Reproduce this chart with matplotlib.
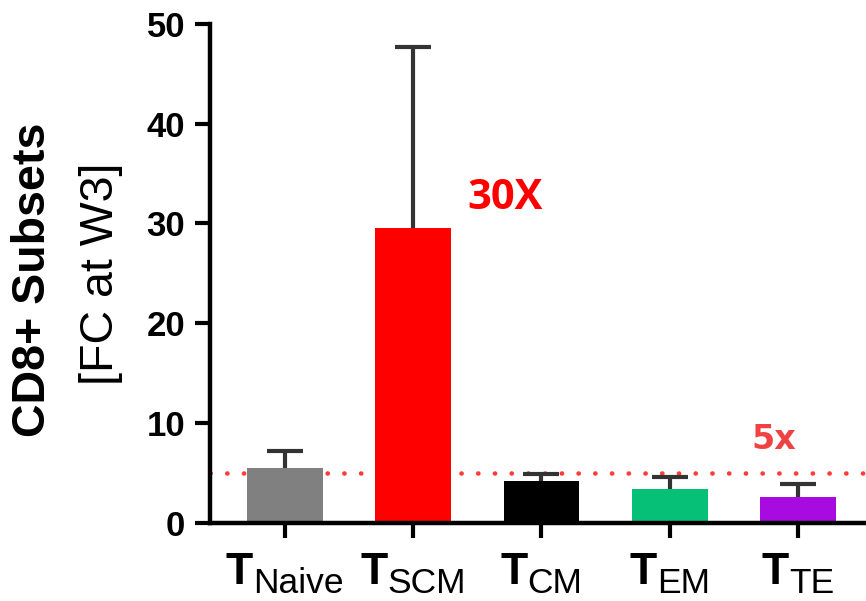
import matplotlib
matplotlib.use("Agg")
import matplotlib.pyplot as plt
from matplotlib.transforms import blended_transform_factory, offset_copy

# ---- data ----
categories_main = ["T", "T", "T", "T", "T"]
categories_sub = ["Naive", "SCM", "CM", "EM", "TE"]
means = [5.45, 29.5, 4.12, 3.34, 2.55]
errors_up = [1.7, 18.2, 0.78, 1.22, 1.32]
bar_colors = ["#808080", "#FF0000", "#000000", "#07C078", "#A70BE0"]
yticks = [0, 10, 20, 30, 40, 50]
threshold = 5
label_30x = "30X"
label_5x = "5x"
ylabel_bold = "CD8+ Subsets"
ylabel_norm = "[FC at W3]"

W, H = 866, 601
fig = plt.figure(figsize=(W / 100, H / 100), dpi=100)
ax = fig.add_axes([209.5 / W, (H - 522.5) / H, 1 - 209.5 / W, (522.5 - 24) / H])

x = list(range(len(means)))
ax.axhline(threshold, color="#FF3B3B", lw=3.3, linestyle=(0, (0.05, 3.6)),
           dash_capstyle="round", zorder=1)
ax.bar(x, means, width=0.59, color=bar_colors, zorder=2)
eb = ax.errorbar(x, means, yerr=[[0] * len(means), errors_up], fmt="none",
                 ecolor="#333333", elinewidth=3, capsize=13.3, capthick=3, zorder=3)
# keep only the upper caps
caplines = eb[1]
if len(caplines) == 2:
    caplines[0].set_visible(False)

ax.set_xlim(-0.588, 4.53)
ax.set_ylim(0, 50)
ax.set_yticks(yticks)
ax.set_yticklabels([str(v) for v in yticks], fontfamily="Liberation Sans",
                   fontweight="bold", fontsize=25)
ax.set_xticks(x)
ax.set_xticklabels([])
for s in ["top", "right"]:
    ax.spines[s].set_visible(False)
for s in ["left", "bottom"]:
    ax.spines[s].set_linewidth(3.2)
ax.tick_params(axis="both", direction="out", length=10.5, width=3, pad=7)
ax.spines["left"].set_bounds(0, 50)

# annotations
def px_to_x(px):
    return (px - 209.5) / (W - 209.5) * 5.118 - 0.588

def py_to_y(py):
    return (522.5 - py) / 9.97

ax.text(px_to_x(467), py_to_y(209), label_30x,
        color="#FF0000", fontfamily="Open Sans", fontweight="bold", fontsize=30,
        ha="left", va="baseline")
ax.text(px_to_x(751), py_to_y(449), label_5x,
        color="#F04242", fontfamily="DejaVu Sans", fontweight="bold", fontsize=24,
        ha="left", va="baseline")

# y label (two lines)
fig.text(33.5 / W, (H - 280) / H, ylabel_bold, rotation=90, ha="center", va="center",
         fontfamily="Liberation Sans", fontweight="bold", fontsize=33.5)
fig.text(101 / W, (H - 273.5) / H, ylabel_norm, rotation=90, ha="center", va="center",
         fontfamily="Liberation Sans", fontsize=33.5)

# x tick labels: bold T with large subscript
trans = blended_transform_factory(ax.transData, fig.transFigure)
renderer = fig.canvas.get_renderer()
for xi, main, sub in zip(x, categories_main, categories_sub):
    t1 = ax.text(xi, (H - 584) / H, main, transform=trans, ha="left", va="baseline",
                 fontfamily="Liberation Sans", fontweight="bold", fontsize=32,
                 clip_on=False)
    t2 = ax.text(xi, (H - 593) / H, sub, transform=trans, ha="left", va="baseline",
                 fontfamily="Liberation Sans", fontsize=25.5, clip_on=False)
    w1 = t1.get_window_extent(renderer).width
    w2 = t2.get_window_extent(renderer).width
    total = w1 + w2
    t1.set_transform(offset_copy(trans, fig=fig, x=-total / 2, y=0, units="dots"))
    t2.set_transform(offset_copy(trans, fig=fig, x=-total / 2 + w1, y=0, units="dots"))

fig.savefig("out.png", dpi=100)
